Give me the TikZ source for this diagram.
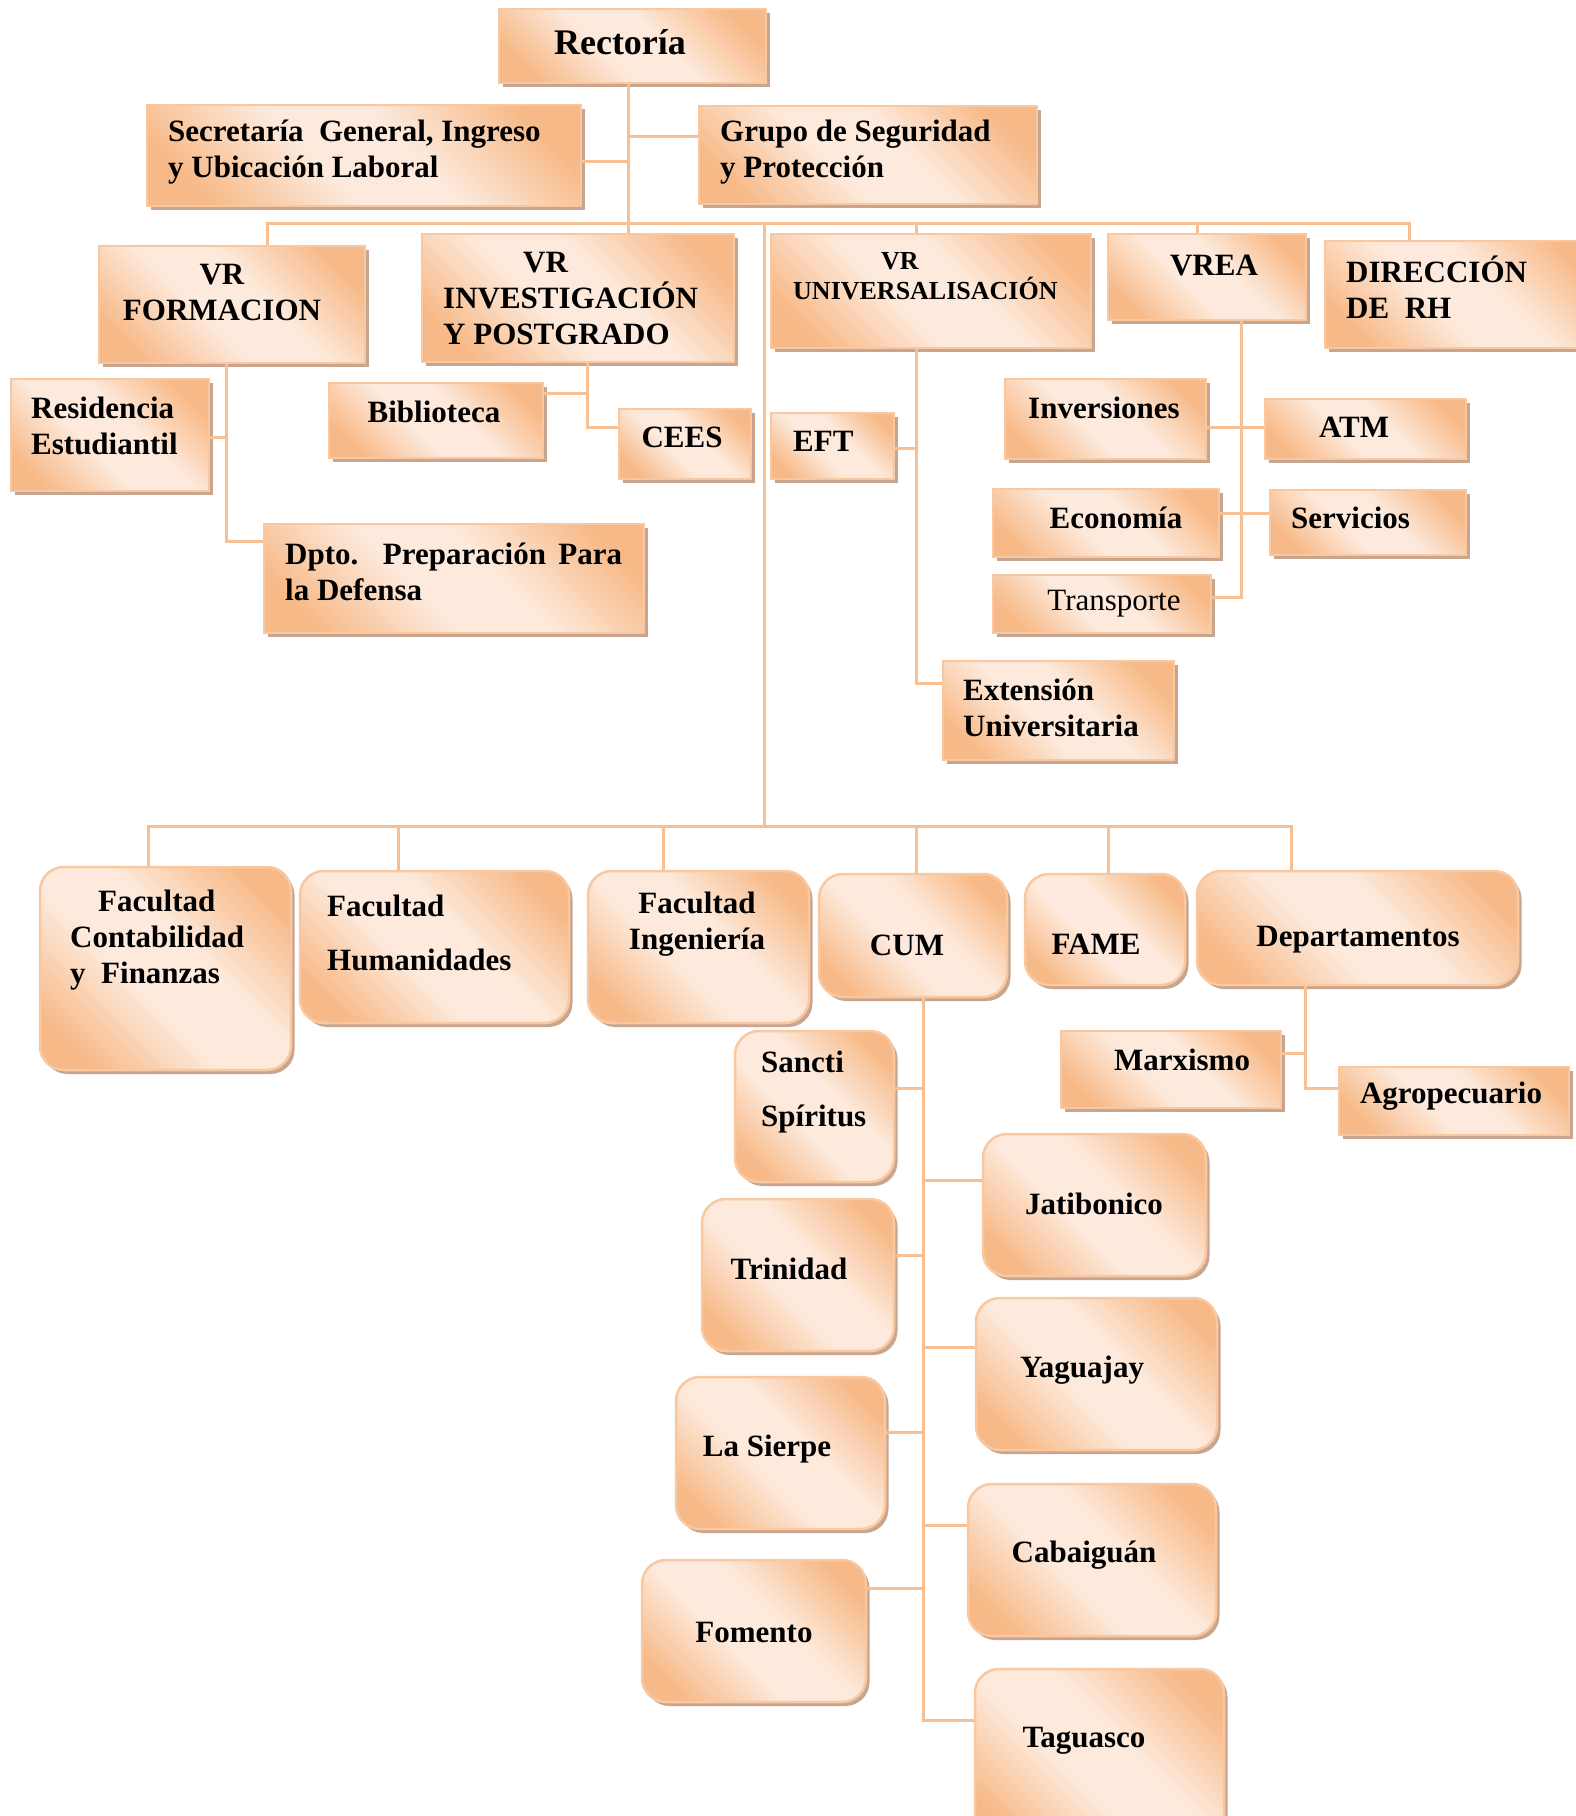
\documentclass[tikz,border=0pt]{standalone}
\usepackage{fontspec}
\setmainfont{Liberation Serif}
\usetikzlibrary{fit,shadows}

\definecolor{peachdark}{HTML}{F7B987}
\definecolor{peachlight}{HTML}{FDEADC}
\definecolor{edgec}{HTML}{F9C8A0}
\definecolor{linkc}{HTML}{F8BF92}
\definecolor{shadec}{HTML}{C8A58E}

% diagonal fill: dark corners, light band through the middle
\pgfdeclareverticalshading{peachband}{100bp}{%
  color(0bp)=(peachdark); color(23bp)=(peachdark);
  color(43bp)=(peachlight); color(57bp)=(peachlight);
  color(77bp)=(peachdark); color(100bp)=(peachdark)}

\tikzset{
  unitbox/.style={draw=edgec, line width=2.5pt, inner sep=0pt,
    shading=peachband, shading angle=-45,
    drop shadow={shadow xshift=3.5pt, shadow yshift=-4pt, fill=shadec, opacity=1}},
  sqbox/.style={unitbox},
  rbox/.style={unitbox, rounded corners=24pt},
  link/.style={draw=linkc, line width=3pt},
  lbl/.style={font=\fontsize{31}{36}\selectfont\bfseries, inner sep=0pt, align=left},
  lblc/.style={lbl, align=center},
}

\begin{document}
\begin{tikzpicture}[x=1pt, y=-1pt]
\useasboundingbox (0,0) rectangle (1576,1816);
\clip (0,0) rectangle (1576,1816);
\fill[white] (0,0) rectangle (1576,1816);

% ---------- upper level boxes ----------
\node[sqbox, fit={(499,9)(766,83)}]      (rect)   {};
\node[sqbox, fit={(147,105)(581,206)}]   (secr)   {};
\node[sqbox, fit={(699,106)(1037,204)}]  (grupo)  {};
\node[sqbox, fit={(99,246)(365,363)}]    (vrf)    {};
\node[sqbox, fit={(422,234)(734,362)}]   (vri)    {};
\node[sqbox, fit={(771,234)(1091,348)}]  (vru)    {};
\node[sqbox, fit={(1108,234)(1306,320)}] (vrea)   {};
\node[sqbox, fit={(1325,241)(1600,348)}] (drh)    {};
\node[sqbox, fit={(11,379)(209,491)}]    (resid)  {};
\node[sqbox, fit={(329,383)(543,458)}]   (bibl)   {};
\node[sqbox, fit={(619,409)(751,479)}]   (cees)   {};
\node[sqbox, fit={(771,413)(894,479)}]   (eft)    {};
\node[sqbox, fit={(264,524)(644,633)}]   (dpto)   {};
\node[sqbox, fit={(1005,379)(1206,459)}] (inv)    {};
\node[sqbox, fit={(1265,399)(1466,459)}] (atm)    {};
\node[sqbox, fit={(993,489)(1219,557)}]  (econ)   {};
\node[sqbox, fit={(1270,490)(1466,555)}] (serv)   {};
\node[sqbox, fit={(993,575)(1211,633)}]  (transp) {};
\node[sqbox, fit={(943,661)(1174,760)}]  (ext)    {};

% ---------- faculties and centres ----------
\node[rbox, fit={(40,867)(291,1070)}]    (fcf)  {};
\node[rbox, fit={(300,871)(569,1023)}]   (fhum) {};
\node[rbox, fit={(588,871)(809,1023)}]   (fing) {};
\node[rbox, fit={(819,874)(1007,997)}]   (cum)  {};
\node[rbox, fit={(1025,874)(1185,985)}]  (fame) {};
\node[rbox, fit={(1197,871)(1518,985)}]  (dept) {};
\node[sqbox, fit={(1061,1031)(1281,1108)}] (marx) {};
\node[sqbox, fit={(1339,1067)(1569,1135)}] (agro) {};

% ---------- municipal centres ----------
\node[rbox, fit={(735,1031)(894,1182)}]  (ss)   {};
\node[rbox, fit={(983,1134)(1206,1276)}] (jat)  {};
\node[rbox, fit={(702,1199)(894,1351)}]  (trin) {};
\node[rbox, fit={(976,1298)(1217,1450)}] (yag)  {};
\node[rbox, fit={(676,1377)(885,1529)}]  (lasi) {};
\node[rbox, fit={(968,1484)(1216,1636)}] (cab)  {};
\node[rbox, fit={(642,1560)(866,1702)}]  (fom)  {};
\node[rbox, fit={(975,1669)(1224,1850)}] (tag)  {};

% ---------- junction points ----------
\coordinate (jr)  at (628,223);
\coordinate (jsec) at (628,161);
\coordinate (jgr) at (628,136);
\coordinate (bL)  at (267,223);
\coordinate (bR)  at (1409,223);
\coordinate (bu)  at (916,223);
\coordinate (bv)  at (1197,223);
\coordinate (tt)  at (764,223);
\coordinate (tb)  at (764,826);
\coordinate (lL)  at (148,826);
\coordinate (lR)  at (1291,826);
\coordinate (lh)  at (398,826);
\coordinate (li)  at (663,826);
\coordinate (lc)  at (916,826);
\coordinate (lf)  at (1108,826);
\coordinate (fa)  at (226,437);
\coordinate (fb)  at (226,541);
\coordinate (ia)  at (587,393);
\coordinate (ib)  at (587,427);
\coordinate (ua)  at (916,448);
\coordinate (ub)  at (916,683);
\coordinate (ea)  at (1241,427);
\coordinate (eb)  at (1241,513);
\coordinate (ec)  at (1241,597);
\coordinate (da)  at (1305,1053);
\coordinate (db)  at (1305,1088);
\coordinate (c1)  at (923,1088);
\coordinate (c2)  at (923,1180);
\coordinate (c3)  at (923,1255);
\coordinate (c4)  at (923,1347);
\coordinate (c5)  at (923,1432);
\coordinate (c6)  at (923,1525);
\coordinate (c7)  at (923,1588);
\coordinate (c8)  at (923,1720);

% ---------- connectors ----------
\draw[link] (rect.south -| jr) -- (vri.north -| jr);
\draw[link] (secr.east |- jsec) -- (jsec);
\draw[link] (jgr) -- (grupo.west |- jgr);
\draw[link] (vrf.north -| bL) -- (bL) -- (bR) -- (drh.north -| bR);
\draw[link] (bu) -- (vru.north -| bu);
\draw[link] (bv) -- (vrea.north -| bv);
\draw[link] (tt) -- (tb);
\draw[link] (fcf.north -| lL) -- (lL) -- (lR) -- (dept.north -| lR);
\draw[link] (lh) -- (fhum.north -| lh);
\draw[link] (li) -- (fing.north -| li);
\draw[link] (lc) -- (cum.north -| lc);
\draw[link] (lf) -- (fame.north -| lf);

\draw[link] (vrf.south -| fa) -- (fb) -- (dpto.west |- fb);
\draw[link] (resid.east |- fa) -- (fa);
\draw[link] (vri.south -| ia) -- (ib) -- (cees.west |- ib);
\draw[link] (bibl.east |- ia) -- (ia);
\draw[link] (vru.south -| ua) -- (ub) -- (ext.west |- ub);
\draw[link] (eft.east |- ua) -- (ua);
\draw[link] (vrea.south -| ea) -- (ec) -- (transp.east |- ec);
\draw[link] (inv.east |- ea) -- (atm.west |- ea);
\draw[link] (econ.east |- eb) -- (serv.west |- eb);
\draw[link] (dept.south -| da) -- (db) -- (agro.west |- db);
\draw[link] (marx.east |- da) -- (da);

\draw[link] (cum.south -| c1) -- (c8) -- (tag.west |- c8);
\draw[link] (ss.east |- c1) -- (c1);
\draw[link] (c2) -- (jat.west |- c2);
\draw[link] (trin.east |- c3) -- (c3);
\draw[link] (c4) -- (yag.west |- c4);
\draw[link] (lasi.east |- c5) -- (c5);
\draw[link] (c6) -- (cab.west |- c6);
\draw[link] (fom.east |- c7) -- (c7);

% ---------- labels ----------
\node[lbl, font=\fontsize{36}{40}\selectfont\bfseries] (t-rect) at (620,42) {Rectoría};
\node[lbl, anchor=west] (t-secr) at (168,152) {Secretaría\ \ General, Ingreso\\y Ubicación Laboral};
\node[lbl, anchor=west] (t-grupo) at (720,152) {Grupo de Seguridad\\y Protección};
\node[lblc] (t-vrf) at (222,292) {VR\\FORMACION};
\node[lbl, anchor=west] (t-vri) at (443,298) {\hspace*{80pt}VR\\INVESTIGACIÓN\\Y POSTGRADO};
\node[lbl, anchor=west, font=\fontsize{26}{30}\selectfont\bfseries] (t-vru) at (793,276) {\hspace*{88pt}VR\\UNIVERSALISACIÓN};
\node[lbl] (t-vrea) at (1214,265) {VREA};
\node[lbl, anchor=west] (t-drh) at (1346,287) {DIRECCIÓN\\DE\ \ RH};
\node[lbl, anchor=west] (t-resid) at (31,426) {Residencia\\Estudiantil};
\node[lbl] (t-bibl) at (434,412) {Biblioteca};
\node[lbl] (t-cees) at (682,437) {CEES};
\node[lbl, anchor=west] (t-eft) at (793,441) {EFT};
\node[lbl, anchor=west] (t-dpto) at (285,572) {\makebox[337pt][s]{Dpto. Preparación Para}\\la Defensa};
\node[lbl] (t-inv) at (1104,408) {Inversiones};
\node[lbl] (t-atm) at (1354,427) {ATM};
\node[lbl] (t-econ) at (1116,518) {Economía};
\node[lbl, anchor=west] (t-serv) at (1291,518) {Servicios};
\node[lbl, font=\fontsize{31}{36}\selectfont] (t-transp) at (1114,604) {Transporte};
\node[lbl, anchor=west] (t-ext) at (963,708) {Extensión\\Universitaria};

\node[lbl, anchor=west] (t-fcf) at (70,940) {\hspace*{28pt}Facultad\\Contabilidad\\y\ \ Finanzas};
\node[lbl, anchor=west, font=\fontsize{31}{54}\selectfont\bfseries] (t-fhum) at (327,933) {Facultad\\Humanidades};
\node[lblc] (t-fing) at (697,924) {Facultad\\Ingeniería};
\node[lbl] (t-cum) at (907,945) {CUM};
\node[lbl] (t-fame) at (1096,944) {FAME};
\node[lbl] (t-dept) at (1358,940) {Departamentos};
\node[lbl] (t-marx) at (1182,1060) {Marxismo};
\node[lbl] (t-agro) at (1451,1096) {Agropecuario};

\node[lbl, anchor=west, font=\fontsize{31}{54}\selectfont\bfseries] (t-ss) at (761,1092) {Sancti\\Spíritus};
\node[lbl] (t-jat) at (1094,1204) {Jatibonico};
\node[lbl] (t-trin) at (789,1269) {Trinidad};
\node[lbl] (t-yag) at (1082,1370) {Yaguajay};
\node[lbl] (t-lasi) at (767,1449) {La Sierpe};
\node[lbl] (t-cab) at (1084,1555) {Cabaiguán};
\node[lbl] (t-fom) at (754,1632) {Fomento};
\node[lbl] (t-tag) at (1084,1741) {Taguasco};
\end{tikzpicture}
\end{document}
